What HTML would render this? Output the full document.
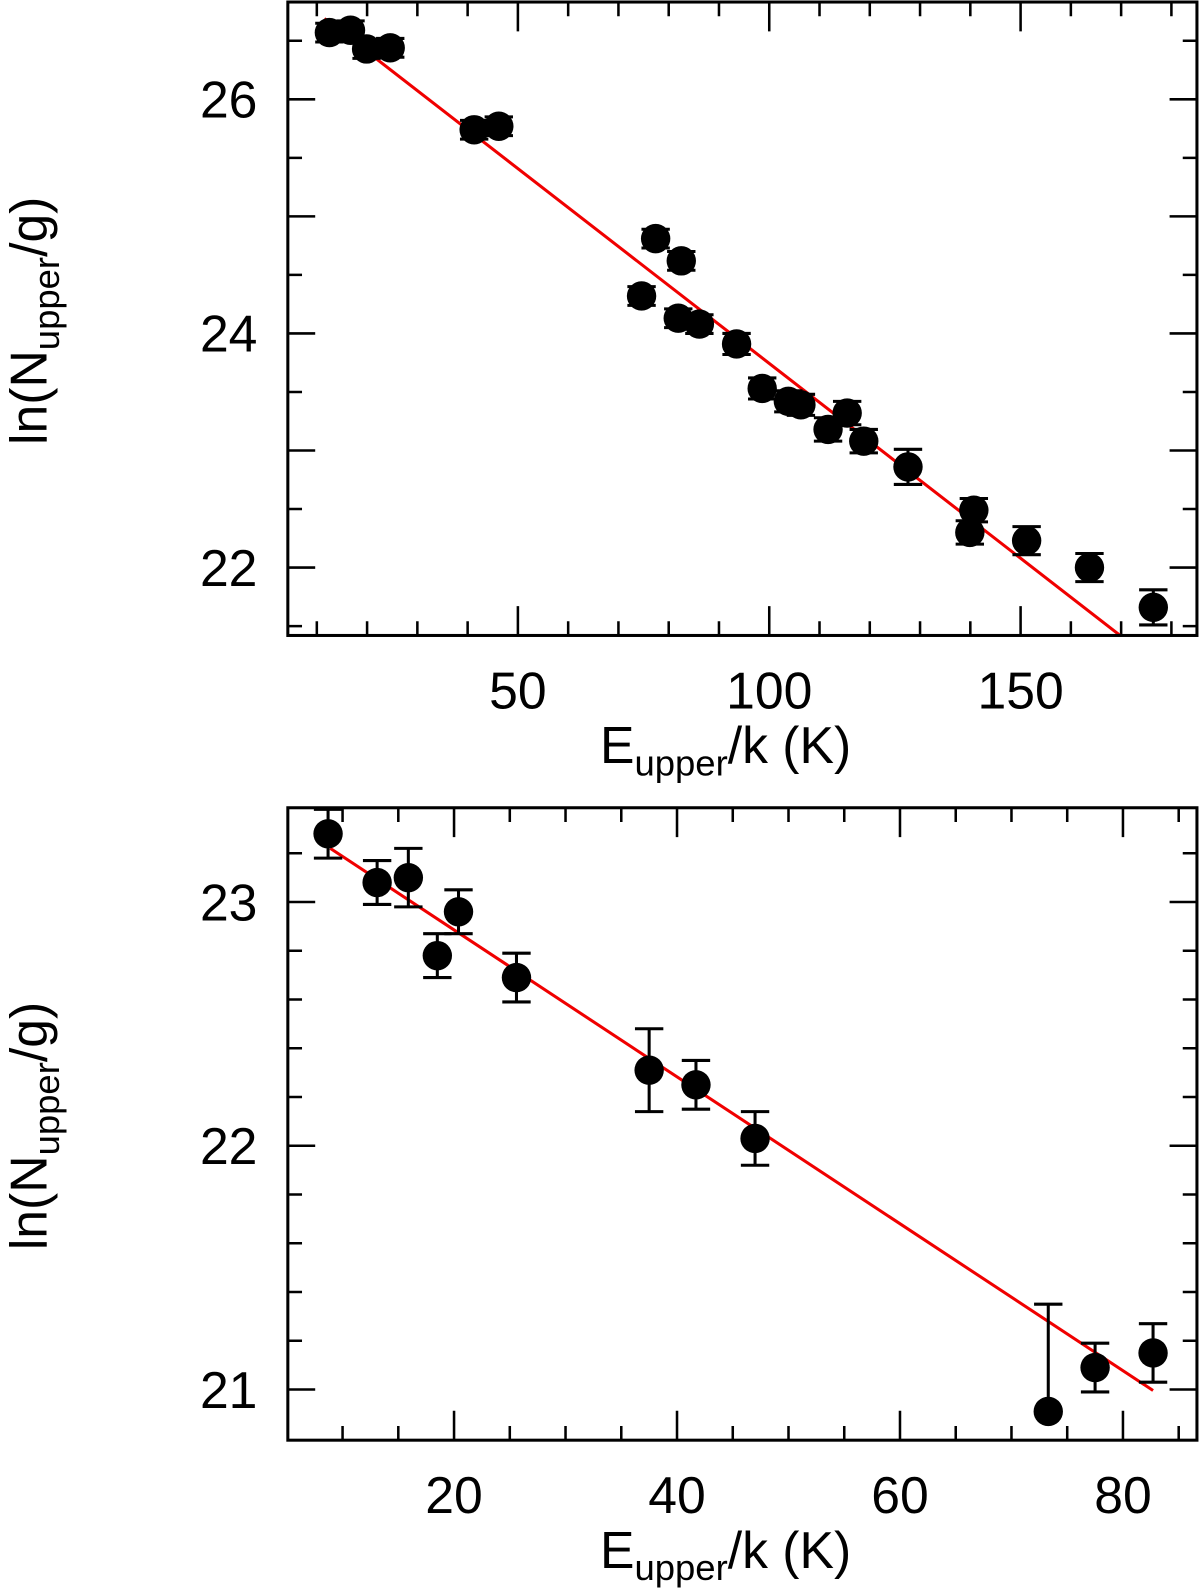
<!DOCTYPE html>
<html><head><meta charset="utf-8"><style>
body{margin:0;background:#fff}
svg text{font-family:"Liberation Sans",sans-serif;fill:#000}
</style></head><body>
<svg id="c" width="1200" height="1589" viewBox="0 0 1200 1589" xmlns="http://www.w3.org/2000/svg"><g id="root" transform="scale(1.0135)"></g></svg>
<script>
// Top panel data
const topX=[12.5,16.7,19.9,24.6,41.3,46.2,74.6,77.4,82.5,81.9,86.1,93.5,98.6,103.8,106.3,111.7,115.5,118.8,127.6,139.9,140.7,151.2,163.7,176.4];
const topY=[26.57,26.59,26.43,26.44,25.74,25.77,24.32,24.81,24.62,24.13,24.08,23.91,23.53,23.42,23.39,23.18,23.32,23.08,22.86,22.30,22.49,22.23,22.0,21.66];
const topErr=[0.08,0.08,0.08,0.08,0.08,0.08,0.08,0.08,0.08,0.08,0.08,0.09,0.09,0.09,0.09,0.1,0.1,0.1,0.15,0.1,0.1,0.12,0.12,0.15];
const topFit=[11.5,26.69,169.8,21.42];
const topXTicks=[50,100,150];
const topYTicks=[22,24,26];
// Bottom panel data
const botX=[8.7,13.1,15.9,18.5,20.4,25.6,37.5,41.7,47.0,73.3,77.5,82.7];
const botY=[23.28,23.08,23.10,22.78,22.96,22.69,22.31,22.25,22.03,20.91,21.09,21.15];
const botErrUp=[0.1,0.09,0.12,0.09,0.09,0.1,0.17,0.1,0.11,0.44,0.1,0.12];
const botErrDn=[0.1,0.09,0.12,0.09,0.09,0.1,0.17,0.1,0.11,0.0,0.1,0.12];
const botFit=[8.9,23.22,82.7,20.996];
const botXTicks=[20,40,60,80];
const botYTicks=[21,22,23];

const root=document.getElementById('root');
const NS='http://www.w3.org/2000/svg';
function mk(tag,attrs,parent){const e=document.createElementNS(NS,tag);for(const k in attrs)e.setAttribute(k,attrs[k]);(parent||root).appendChild(e);return e;}

function panel(p){
  const g=mk('g',{});
  
  
  const sx=v=>p.x0+(v-p.xmin)*p.xs, sy=v=>p.y0-(v-p.ymin)*p.ys;
  const L=284,R=1181,T=p.top,B=p.bot;
  for(let v=p.xtStart;v<=p.xtEnd+1e-9;v+=p.xminor){
    const X=sx(v);if(X<L+2||X>R-2)continue;
    const major=Math.abs(v/p.xmajor-Math.round(v/p.xmajor))<1e-6;
    const len=major?29:14;
    const t=mk('path',{d:`M${X},${B}V${B-len}M${X},${T}V${T+len}`,stroke:'#000','stroke-width':2.5},g);
    
  }
  for(let v=p.ytStart;v<=p.ytEnd+1e-9;v+=p.yminor){
    const Y=sy(v);if(Y<T+2||Y>B-2)continue;
    const major=Math.abs(v-Math.round(v))<1e-6;
    const len=major?27:14;
    const t=mk('path',{d:`M${L},${Y}H${L+len}M${R},${Y}H${R-len}`,stroke:'#000','stroke-width':2.5},g);
    
  }
  p.xTicks.forEach(v=>{const t=mk('text',{x:sx(v),y:B+72,'font-size':51,'text-anchor':'middle'},g);t.textContent=v;
    });
  p.yTicks.forEach(v=>{const t=mk('text',{x:254,y:sy(v)+18,'font-size':51,'text-anchor':'end'},g);t.textContent=v;
    });
  const fl=mk('line',{x1:sx(p.fit[0]),y1:sy(p.fit[1]),x2:sx(p.fit[2]),y2:sy(p.fit[3]),stroke:'#f00000','stroke-width':3},g);
  
  p.xs_.forEach((xv,i)=>{
    const X=sx(xv),Y=sy(p.ys_[i]),y1=sy(p.ys_[i]+p.eu[i]),y2=sy(p.ys_[i]-p.ed[i]);
    const e=mk('path',{d:`M${X},${y1}V${y2}M${X-14},${y1}H${X+14}M${X-14},${y2}H${X+14}`,stroke:'#000','stroke-width':3},g);
    
    const c=mk('circle',{cx:X,cy:Y,r:14.5,fill:'#000'},g);
    
  });
  const f=mk('rect',{x:L,y:T,width:R-L,height:B-T,fill:'none',stroke:'#000','stroke-width':3},g);
  
  const xt=mk('text',{x:592,y:B+126,'font-size':51},g);
  xt.innerHTML='E<tspan font-size="36" dy="12">upper</tspan><tspan dy="-12">/k  (K)</tspan>';
  
  const cy=(T+B)/2;
  const yt=mk('text',{x:0,y:0,'font-size':51,'text-anchor':'middle',transform:`translate(46,${cy+2}) rotate(-90)`},g);
  yt.innerHTML='ln(N<tspan font-size="36" dy="12">upper</tspan><tspan dy="-12">/g)</tspan>';
  
}
panel({name:'top-panel',top:2,bot:627,x0:263,xmin:0,xs:4.96,y0:560,ymin:22,ys:115.5,
  xtStart:10,xtEnd:180,xminor:10,xmajor:50,ytStart:21.5,ytEnd:26.5,yminor:0.5,
  xTicks:topXTicks,yTicks:topYTicks,fit:topFit,xs_:topX,ys_:topY,eu:topErr,ed:topErr});
panel({name:'bottom-panel',top:797,bot:1421,x0:228,xmin:0,xs:11,y0:1371,ymin:21,ys:240.5,
  xtStart:10,xtEnd:85,xminor:5,xmajor:20,ytStart:20.8,ytEnd:23.4,yminor:0.2,
  xTicks:botXTicks,yTicks:botYTicks,fit:botFit,xs_:botX,ys_:botY,eu:botErrUp,ed:botErrDn});
</script>
</body></html>
